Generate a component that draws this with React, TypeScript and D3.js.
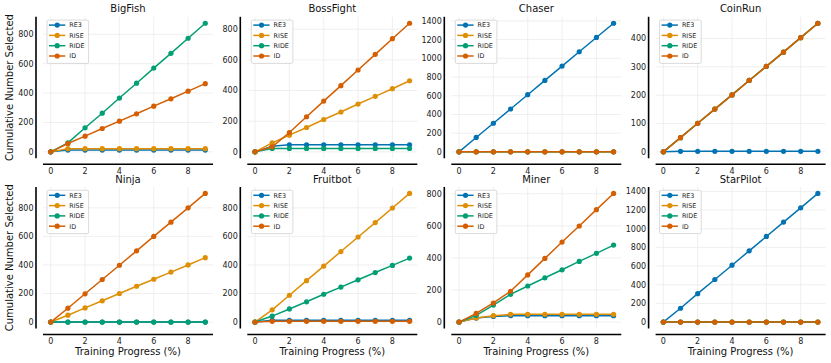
import React from "react";
import * as d3 from "d3";

// training progress steps (x axis)
const steps = [0, 1, 2, 3, 4, 5, 6, 7, 8, 9];
const methods = ["RE3", "RISE", "RIDE", "ID"];
const colors = ["#0173b2", "#de8f05", "#029e73", "#d55e00"];
const xTicks = [0, 2, 4, 6, 8];

// values per env, rows in methods order: RE3, RISE, RIDE, ID
const bigFish = [
  [0, 12, 12, 12, 12, 12, 12, 12, 12, 12],
  [0, 22, 22, 22, 22, 22, 22, 22, 22, 22],
  [0, 61, 164, 263, 366, 467, 570, 670, 773, 875],
  [0, 57, 107, 159, 209, 259, 311, 361, 413, 464],
];
const bossFight = [
  [0, 37, 46, 46, 46, 46, 46, 46, 46, 46],
  [0, 59, 109, 159, 211, 260, 312, 362, 412, 464],
  [0, 22, 22, 22, 22, 22, 22, 22, 22, 22],
  [0, 33, 126, 229, 331, 432, 534, 636, 738, 839],
];
const chaser = [
  [0, 154, 306, 458, 611, 764, 917, 1070, 1223, 1375],
  [0, 0, 0, 0, 0, 0, 0, 0, 0, 0],
  [0, 0, 0, 0, 0, 0, 0, 0, 0, 0],
  [0, 0, 0, 0, 0, 0, 0, 0, 0, 0],
];
const coinRun = [
  [0, 2, 2, 2, 2, 2, 2, 2, 2, 2],
  [0, 50, 101, 151, 201, 252, 302, 352, 403, 454],
  [0, 50, 101, 151, 201, 252, 302, 352, 403, 454],
  [0, 50, 101, 151, 201, 252, 302, 352, 403, 454],
];
const ninja = [
  [0, 0, 0, 0, 0, 0, 0, 0, 0, 0],
  [0, 48, 99, 149, 200, 251, 300, 350, 400, 451],
  [0, 0, 0, 0, 0, 0, 0, 0, 0, 0],
  [0, 97, 198, 298, 398, 499, 600, 700, 800, 901],
];
const fruitbot = [
  [0, 12, 12, 12, 12, 12, 12, 12, 12, 12],
  [0, 86, 188, 290, 392, 494, 596, 697, 799, 901],
  [0, 42, 92, 142, 195, 245, 296, 347, 397, 448],
  [0, 5, 5, 5, 5, 5, 5, 5, 5, 5],
];
const miner = [
  [0, 25, 35, 40, 40, 40, 40, 40, 40, 40],
  [0, 25, 40, 48, 48, 48, 48, 48, 48, 48],
  [0, 42, 106, 173, 225, 276, 326, 378, 428, 480],
  [0, 54, 119, 192, 294, 397, 499, 599, 701, 802],
];
const starPilot = [
  [0, 148, 304, 456, 609, 763, 917, 1071, 1224, 1378],
  [0, 0, 0, 0, 0, 0, 0, 0, 0, 0],
  [0, 0, 0, 0, 0, 0, 0, 0, 0, 0],
  [0, 0, 0, 0, 0, 0, 0, 0, 0, 0],
];

const ticks800 = [0, 200, 400, 600, 800];
const ticks1400 = [0, 200, 400, 600, 800, 1000, 1200, 1400];
const ticks400 = [0, 100, 200, 300, 400];

const panels = [
  { title: "BigFish", data: bigFish, yTicks: ticks800 },
  { title: "BossFight", data: bossFight, yTicks: ticks800 },
  { title: "Chaser", data: chaser, yTicks: ticks1400 },
  { title: "CoinRun", data: coinRun, yTicks: ticks400 },
  { title: "Ninja", data: ninja, yTicks: ticks800 },
  { title: "Fruitbot", data: fruitbot, yTicks: ticks800 },
  { title: "Miner", data: miner, yTicks: ticks800 },
  { title: "StarPilot", data: starPilot, yTicks: ticks1400 },
];

const W = 831;
const H = 363;
const colLeft = [43, 247.3, 451.3, 655.6];
const rowTop = [16.8, 187];
const pw = 170;
const ph = 141.5;
const font = "DejaVu Sans, sans-serif";

function Panel({ p, i }: { p: any; i: number }) {
  const col = i % 4;
  const row = Math.floor(i / 4);
  const left = colLeft[col];
  const top = rowTop[row];
  const bottom = top + ph;

  const x = d3.scaleLinear().domain([-0.45, 9.45]).range([left, left + pw]);
  const all = p.data.flat();
  const lo = d3.min(all) as number;
  const hi = d3.max(all) as number;
  const pad = (hi - lo) * 0.05;
  const y = d3.scaleLinear().domain([lo - pad, hi + pad]).range([bottom, top]);

  const line = d3
    .line<number>()
    .x((d, j) => x(steps[j]))
    .y((d) => y(d));

  const spineX = left - 7;
  const spineY = bottom + 6;
  const lgX = left + 4;
  const lgY = top + 3.3;

  return (
    <g>
      {xTicks.map((t) => (
        <line key={"gx" + t} x1={x(t)} x2={x(t)} y1={top} y2={bottom} stroke="#ebebeb" strokeWidth={0.8} />
      ))}
      {p.yTicks.map((t: number) => (
        <line key={"gy" + t} x1={left} x2={left + pw} y1={y(t)} y2={y(t)} stroke="#ebebeb" strokeWidth={0.8} />
      ))}
      {p.data.map((vals: number[], k: number) => (
        <g key={methods[k]}>
          <path d={line(vals) || ""} fill="none" stroke={colors[k]} strokeWidth={1.5} />
          {vals.map((v, j) => (
            <circle key={j} cx={x(steps[j])} cy={y(v)} r={2.6} fill={colors[k]} />
          ))}
        </g>
      ))}
      <line x1={spineX} x2={spineX} y1={top} y2={bottom} stroke="#000" strokeWidth={1.6} />
      <line x1={left} x2={left + pw} y1={spineY} y2={spineY} stroke="#000" strokeWidth={1.6} />
      {p.yTicks.map((t: number) => (
        <text key={"ty" + t} x={spineX - 2.5} y={y(t) + 2.9} textAnchor="end" fontSize={8} fill="#222">
          {t}
        </text>
      ))}
      {xTicks.map((t) => (
        <text key={"tx" + t} x={x(t)} y={spineY + 9.9} textAnchor="middle" fontSize={8} fill="#222">
          {t}
        </text>
      ))}
      <text x={left + pw / 2} y={top - 4.4} textAnchor="middle" fontSize={10} fill="#111">
        {p.title}
      </text>
      <rect x={lgX} y={lgY} width={41.6} height={43.3} rx={1.5} fill="#fff" fillOpacity={0.85} stroke="#d0d0d0" strokeWidth={0.8} />
      {methods.map((m, k) => {
        const ly = lgY + 5 + k * 10.3;
        return (
          <g key={"lg" + m}>
            <line x1={lgX + 2} x2={lgX + 18.3} y1={ly} y2={ly} stroke={colors[k]} strokeWidth={1.5} />
            <circle cx={lgX + 10.2} cy={ly} r={2.6} fill={colors[k]} />
            <text x={lgX + 22.3} y={ly + 2.3} fontSize={6.4} fill="#222">
              {m}
            </text>
          </g>
        );
      })}
      {row === 1 && (
        <text x={left + pw / 2} y={spineY + 20.7} textAnchor="middle" fontSize={10} fill="#111">
          Training Progress (%)
        </text>
      )}
      {col === 0 && (
        <text transform={`translate(13, ${top + ph / 2}) rotate(-90)`} textAnchor="middle" fontSize={10} fill="#111">
          Cumulative Number Selected
        </text>
      )}
    </g>
  );
}

export default function App() {
  return (
    <svg
      width={W}
      height={H}
      style={{ position: "absolute", left: 0, top: 0, background: "#fff" }}
      fontFamily={font}
    >
      {panels.map((p, i) => (
        <Panel key={p.title} p={p} i={i} />
      ))}
    </svg>
  );
}
